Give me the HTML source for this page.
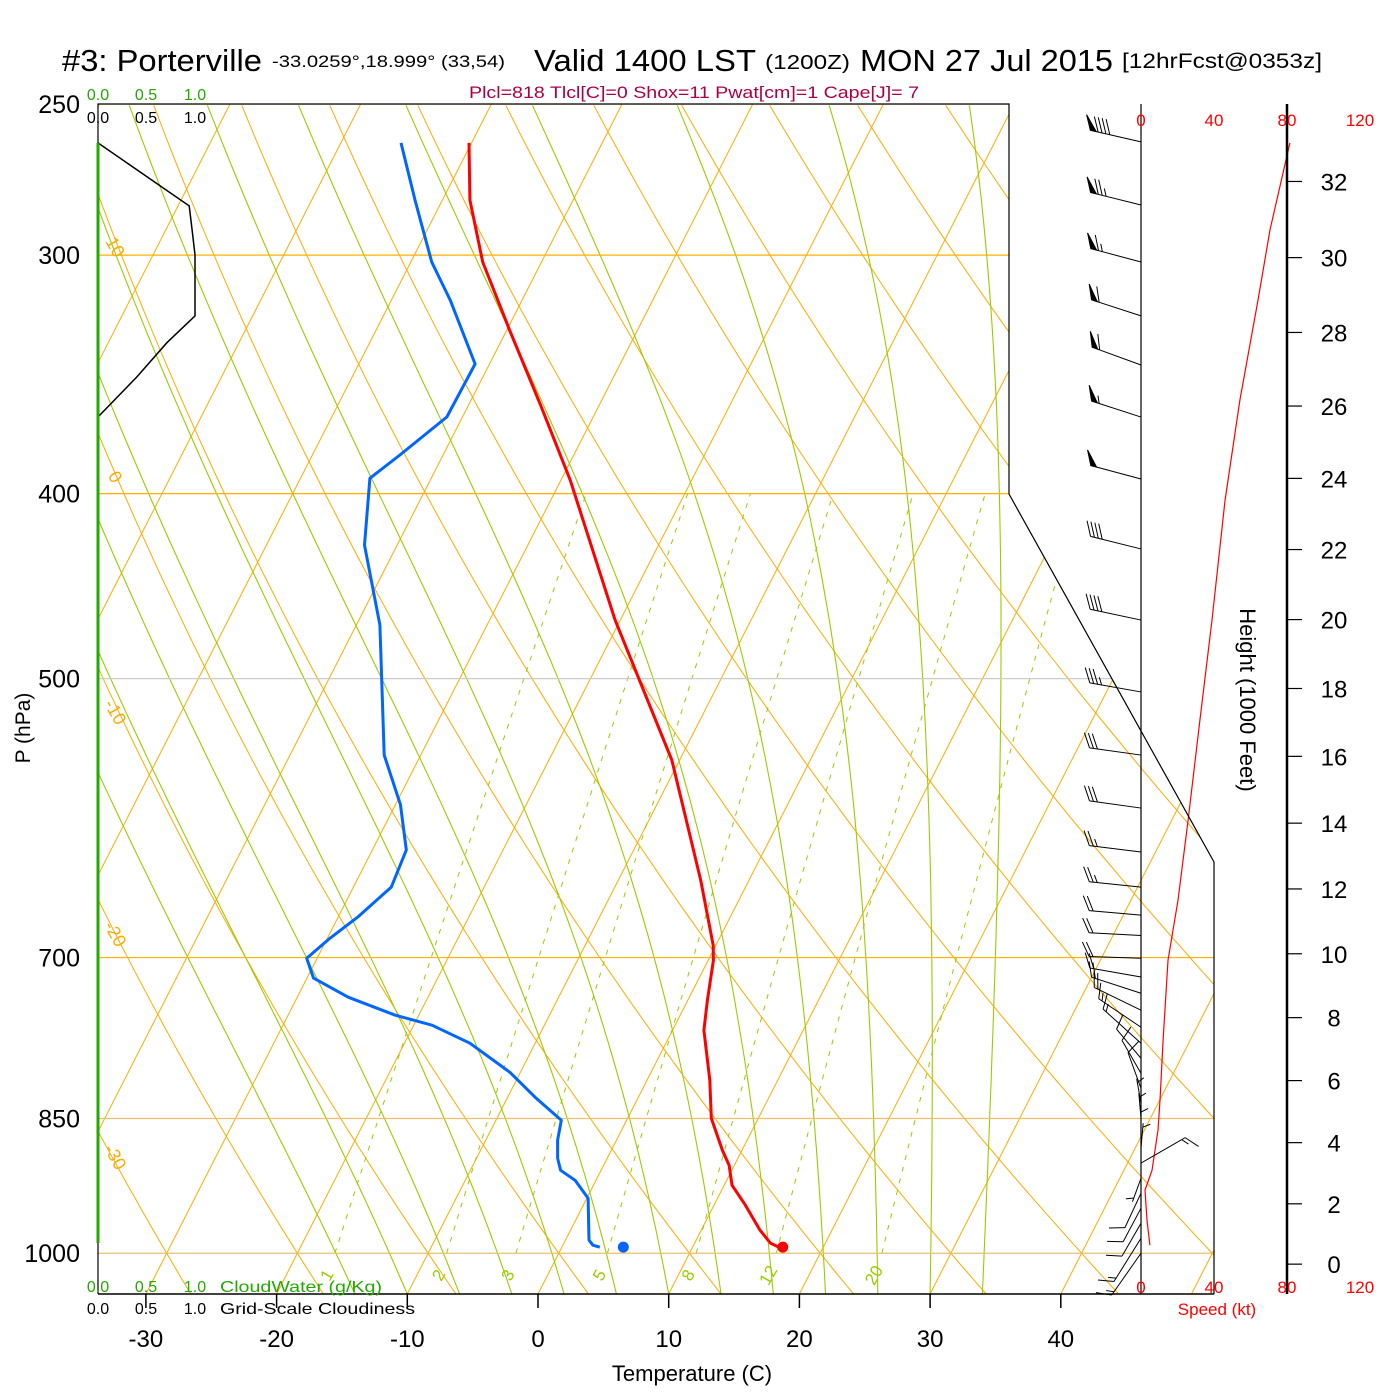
<!DOCTYPE html>
<html><head><meta charset="utf-8"><title>Skew-T Porterville</title>
<style>
html,body{margin:0;padding:0;background:#fff;}
svg{display:block;font-family:"Liberation Sans",sans-serif;}
</style></head>
<body>
<svg id="chart" width="1400" height="1400" viewBox="0 0 1400 1400" xmlns="http://www.w3.org/2000/svg">
<defs>
<clipPath id="plotclip"><polygon points="98,104 1009,104 1009,494 1214,862 1214,1294 98,1294"/></clipPath>
<clipPath id="mixclip"><polygon points="98,494 1214,494 1214,1253 98,1253"/></clipPath>
</defs>
<rect x="0" y="0" width="1400" height="1400" fill="#fff"/>
<g id="grid" clip-path="url(#plotclip)"></g>
<g id="series"></g>
<g id="frame">
<polyline points="98,1294 98,104 1009,104 1009,494 1214,862 1214,1294" fill="none" stroke="#000" stroke-width="1.2"/>
<line x1="98" y1="1294" x2="1214" y2="1294" stroke="#000" stroke-width="1.5"/>
<line x1="98" y1="143" x2="98" y2="1243" stroke="#22aa00" stroke-width="3"/>
<line x1="1141" y1="104" x2="1141" y2="1294" stroke="#000" stroke-width="1.2"/>
<line x1="1287" y1="104" x2="1287" y2="1294" stroke="#000" stroke-width="2.5"/>
</g>
<g fill="#000">
<text x="62" y="71" font-size="31" textLength="200" lengthAdjust="spacingAndGlyphs">#3: Porterville</text>
<text x="272" y="67" font-size="17" textLength="233" lengthAdjust="spacingAndGlyphs">-33.0259°,18.999° (33,54)</text>
<text x="534" y="71" font-size="31" textLength="222" lengthAdjust="spacingAndGlyphs">Valid 1400 LST</text>
<text x="765" y="69" font-size="20" textLength="85" lengthAdjust="spacingAndGlyphs">(1200Z)</text>
<text x="860" y="71" font-size="31" textLength="253" lengthAdjust="spacingAndGlyphs">MON 27 Jul 2015</text>
<text x="1122" y="68" font-size="21" textLength="200" lengthAdjust="spacingAndGlyphs">[12hrFcst@0353z]</text>
<text x="469" y="98" font-size="17" fill="#aa0044" textLength="450" lengthAdjust="spacingAndGlyphs">Plcl=818 Tlcl[C]=0 Shox=11 Pwat[cm]=1 Cape[J]= 7</text>
</g>
<g font-size="16" text-anchor="middle">
<text x="98" y="100" fill="#22aa00">0.0</text>
<text x="146" y="100" fill="#22aa00">0.5</text>
<text x="195" y="100" fill="#22aa00">1.0</text>
<text x="98" y="123" fill="#000">0.0</text>
<text x="146" y="123" fill="#000">0.5</text>
<text x="195" y="123" fill="#000">1.0</text>
<text x="98" y="1292" fill="#22aa00">0.0</text>
<text x="146" y="1292" fill="#22aa00">0.5</text>
<text x="195" y="1292" fill="#22aa00">1.0</text>
<text x="220" y="1292" fill="#22aa00" text-anchor="start" textLength="162" lengthAdjust="spacingAndGlyphs">CloudWater (g/Kg)</text>
<text x="98" y="1314" fill="#000">0.0</text>
<text x="146" y="1314" fill="#000">0.5</text>
<text x="195" y="1314" fill="#000">1.0</text>
<text x="220" y="1314" fill="#000" text-anchor="start" textLength="195" lengthAdjust="spacingAndGlyphs">Grid-Scale Cloudiness</text>
</g>
<text transform="translate(30,728) rotate(-90)" font-size="21" text-anchor="middle">P (hPa)</text>
<text x="692" y="1381" font-size="22" text-anchor="middle">Temperature (C)</text>
<text transform="translate(1240,700) rotate(90)" font-size="22" text-anchor="middle">Height (1000 Feet)</text>
<text x="1217" y="1315" font-size="17" fill="#ff0000" text-anchor="middle">Speed (kt)</text>
<g id="axes"></g>
</svg>
<script>
// ---------- data ----------
const pressureLevels = [250, 300, 400, 500, 700, 850, 1000];
const tempTicks = [-30, -20, -10, 0, 10, 20, 30, 40];
const isotherms = [-120,-110,-100,-90,-80,-70,-60,-50,-40,-30,-20,-10,0,10,20,30,40,50,60];
const dryAdiabats = [-30,-20,-10,0,10,20,30,40,50,60,70,80,90,100,110,120,130,140,150,160,170,180];
const moistAdiabats = [-14,-10,-6,-2,2,6,10,14,18,22,26,30,34];
const mixingRatios = [1, 2, 3, 5, 8, 12, 20];
const tempP = [262.0,280.7,302.5,328.3,359.4,393.5,465.9,551.6,637.6,689.7,702.3,737.0,764.1,811.6,849.7,883.2,899.3,921.2,943.7,972.6,987.9,992.7];
const tempT = [-50.2,-47.9,-44.5,-39.8,-34.5,-29.3,-20.4,-10.6,-3.7,-0.2,0.4,1.5,2.4,4.8,6.4,8.5,9.6,10.6,12.4,14.5,15.8,16.6];
const dewP = [262.0,280.7,302.5,316.7,342.1,364.7,381.8,392.6,425.6,468.7,548.3,582.3,614.8,643.0,666.7,683.9,700.6,717.6,734.3,750.4,759.5,776.2,803.9,828.4,851.7,872.5,891.7,904.8,915.8,935.9,984.3,990.4,992.7];
const dewT = [-55.4,-52.1,-48.4,-45.5,-41.1,-41.2,-43.3,-44.7,-42.5,-38.2,-32.8,-29.6,-27.4,-27.1,-28.5,-29.8,-30.8,-29.5,-26.1,-21.8,-18.6,-15.0,-10.8,-7.9,-5.0,-4.5,-3.8,-3.1,-1.6,0.1,1.8,2.3,2.9];
const sfcP = 992.7, sfcT = 16.9, sfcTd = 4.7;
const cloudP = [262.0,282.7,291.0,299.9,322.8,333.4,347.5,364.7];
const cloudFrac = [0,0.94,0.97,1.0,1.0,0.71,0.40,0];
const speedP = [262.0,291.0,316.7,357.3,403.4,465.9,525.7,593.1,653.2,702.3,773.4,831.4,862.0,904.8,926.6,961.0,990.4];
const speedKt = [81.6,70.7,64.1,54.2,46.0,38.9,32.3,25.8,20.3,14.8,12.1,10.4,9.3,6.0,2.2,3.3,4.9];
const barbP = [261.7,282.4,302.5,322.8,342.5,364.7,393.0,427.6,465.9,508.1,548.3,584.5,616.3,643.0,665.1,681.6,700.6,716.6,730.8,745.9,761.4,776.2,790.5,804.9,819.6,834.5,849.7,865.0,880.9,897.0,913.5,930.1,947.1,964.5,982.1,1000];
const barbDir = [283,284,285,288,290,288,285,284,282,280,278,278,277,276,275,273,272,280,288,296,304,312,320,330,340,350,355,0,5,60,200,205,208,210,212,215];
const barbKt = [90,75,65,60,60,55,50,40,40,35,30,30,25,25,20,20,20,20,20,20,15,15,10,10,10,5,5,5,5,15,5,10,10,10,15,15];
const speedTicks = [0, 40, 80, 120];
const heightTicks = [0,2,4,6,8,10,12,14,16,18,20,22,24,26,28,30,32];

// ---------- scales ----------
const Y = p => 104 + 829 * Math.log(p / 250);
const X = (T, p) => 538 + 13.07 * T + 0.51 * (1294 - Y(p));
const SX = kt => 1141 + kt * 73 / 40;
const NS = 'http://www.w3.org/2000/svg';
function mk(parent, tag, attrs) {
  const el = document.createElementNS(NS, tag);
  for (const k in attrs) el.setAttribute(k, attrs[k]);
  parent.appendChild(el);
  return el;
}
const grid = document.getElementById('grid');
const series = document.getElementById('series');
const axes = document.getElementById('axes');
const PB = 250 * Math.exp((1294 - 104) / 829);

for (const T of isotherms) {
  const el = mk(grid, 'line', {x1: X(T, PB), y1: Y(PB), x2: X(T, 250), y2: Y(250), stroke: '#ffaa00', 'stroke-width': 1});
  
  
}
for (const th of dryAdiabats) {
  let pts = [];
  for (let p = PB; p >= 245; p -= 10) {
    const T = (th + 273.15) * Math.pow(p / 1000, 0.2857) - 273.15;
    pts.push(X(T, p).toFixed(1) + ',' + Y(p).toFixed(1));
  }
  const el = mk(grid, 'polyline', {points: pts.join(' '), fill: 'none', stroke: '#ffaa00', 'stroke-width': 1});
  
  
}
function es(Tc) { return 6.112 * Math.exp(17.67 * Tc / (Tc + 243.5)); }
for (const t0 of moistAdiabats) {
  let T = t0 + 273.15, pts = [];
  const Rd = 287.04, cp = 1005.7, L = 2.501e6, eps = 0.622;
  for (let p = PB; p >= 245; p -= 2) {
    if (Math.round(p) % 10 === 0 || p === PB) pts.push(X(T - 273.15, p).toFixed(1) + ',' + Y(p).toFixed(1));
    const e = es(T - 273.15), rs = eps * e / (p - e);
    const dTdp = (1 / p) * (Rd * T + L * rs) / (cp + L * L * rs * eps / (Rd * T * T));
    T -= 2 * dTdp;
  }
  const el = mk(grid, 'polyline', {points: pts.join(' '), fill: 'none', stroke: '#99cc00', 'stroke-width': 1.1});
  
  
}
const mixG = mk(grid, 'g', {'clip-path': 'url(#mixclip)'});
for (const w of mixingRatios) {
  let pts = [];
  for (let p = 1000; p >= 400; p -= 10) {
    const e = w * p / (622 + w), l = Math.log(e / 6.112);
    const Td = 243.5 * l / (17.67 - l);
    pts.push(X(Td, p).toFixed(1) + ',' + Y(p).toFixed(1));
  }
  const el = mk(mixG, 'polyline', {points: pts.join(' '), fill: 'none', stroke: '#99cc00', 'stroke-width': 1, 'stroke-dasharray': '5,7'});
  
  
  const e0 = w * 1000 / (622 + w), l0 = Math.log(e0 / 6.112);
  const Td0 = 243.5 * l0 / (17.67 - l0);
  const lx = X(Td0, 1000) - 3, ly = 1278;
  const t = mk(grid, 'text', {x: lx, y: ly, 'font-size': 17, fill: '#99cc00', 'text-anchor': 'middle', transform: 'rotate(-60 ' + lx + ' ' + ly + ')'});
  t.textContent = String(w);
  
  
}
for (const p of pressureLevels) {
  const col = (p === 500) ? '#cccccc' : (p === 850 || p === 1000) ? '#e8c070' : '#ffb000';
  const el = mk(grid, 'line', {x1: 98, y1: Y(p), x2: 1214, y2: Y(p), stroke: col, 'stroke-width': 1.2});
  
  
  const t = mk(axes, 'text', {x: 80, y: Y(p) + 9, 'font-size': 25, 'text-anchor': 'end'});
  t.textContent = String(p);
  
  
}
const isoLabels = [0, 10, 20, 30];
const isoLabelP = [333, 410, 478, 562];
isoLabels.forEach((T, i) => {
  const px = X(T, isoLabelP[i]) + 10, py = Y(isoLabelP[i]);
  const t = mk(grid, 'text', {x: px, y: py, 'font-size': 22, fill: '#ffaa00', 'text-anchor': 'middle', transform: 'rotate(-60 ' + px + ' ' + py + ')'});
  t.textContent = String(T);
  
  
});
const dryLabels = [10, 0, -10, -20, -30];
const dryLabelY = [250, 480, 715, 937, 1160];
dryLabels.forEach((v, i) => {
  const px = 110, py = dryLabelY[i];
  const t = mk(grid, 'text', {x: px, y: py, 'font-size': 18, fill: '#ffaa00', 'text-anchor': 'middle', transform: 'rotate(60 ' + px + ' ' + py + ')'});
  t.textContent = String(v);
  
  
});
for (const T of tempTicks) {
  const x = 538 + 13.07 * T;
  const tk = mk(axes, 'line', {x1: x, y1: 1294, x2: x, y2: 1308, stroke: '#000', 'stroke-width': 1.5});
  
  
  const t = mk(axes, 'text', {x: x, y: 1347, 'font-size': 24, 'text-anchor': 'middle'});
  t.textContent = String(T);
  
  
}
for (const s of speedTicks) {
  for (const yy of [126, 1293]) {
    const t = mk(axes, 'text', {x: SX(s), y: yy, 'font-size': 17, fill: '#ff0000', 'text-anchor': 'middle'});
    t.textContent = String(s);
    
    
  }
}
for (const h of heightTicks) {
  const p = 1013.25 * Math.pow(1 - 2.25577e-5 * h * 304.8, 5.25588);
  const y = Y(p);
  const tk = mk(axes, 'line', {x1: 1287, y1: y, x2: 1302, y2: y, stroke: '#000', 'stroke-width': 1.2});
  
  
  const t = mk(axes, 'text', {x: 1334, y: y + 9, 'font-size': 24, 'text-anchor': 'middle'});
  t.textContent = String(h);
  
  
}
{
  const pts = cloudP.map((p, i) => (98 + 97 * cloudFrac[i]).toFixed(1) + ',' + Y(p).toFixed(1)).join(' ');
  const el = mk(series, 'polyline', {points: pts, fill: 'none', stroke: '#000', 'stroke-width': 1.5});
  
  
}
{
  const pts = tempP.map((p, i) => X(tempT[i], p).toFixed(1) + ',' + Y(p).toFixed(1)).join(' ');
  const el = mk(series, 'polyline', {points: pts, fill: 'none', stroke: '#ff0000', 'stroke-width': 3, 'stroke-linejoin': 'round'});
  
  
  const pts2 = dewP.map((p, i) => X(dewT[i], p).toFixed(1) + ',' + Y(p).toFixed(1)).join(' ');
  const el2 = mk(series, 'polyline', {points: pts2, fill: 'none', stroke: '#0066ff', 'stroke-width': 3, 'stroke-linejoin': 'round'});
  
  
  const d1 = mk(series, 'circle', {cx: X(sfcT, sfcP), cy: Y(sfcP), r: 5.5, fill: '#ff0000'});
  
  
  const d2 = mk(series, 'circle', {cx: X(sfcTd, sfcP), cy: Y(sfcP), r: 5.5, fill: '#0066ff'});
  
  
}
{
  const pts = speedP.map((p, i) => SX(speedKt[i]).toFixed(1) + ',' + Y(p).toFixed(1)).join(' ');
  const el = mk(series, 'polyline', {points: pts, fill: 'none', stroke: '#ff0000', 'stroke-width': 1.2});
  
  
}
barbP.forEach((p, i) => {
  const bx = 1141, by = Y(p), d = barbDir[i] * Math.PI / 180, s = barbKt[i];
  const L = s >= 20 ? 52 : 12 + 2.6 * s;
  const ux = Math.sin(d), uy = -Math.cos(d);
  let fx = 0.9 * (-uy) + 0.45 * ux, fy = 0.9 * ux + 0.45 * uy;
  const fl = Math.hypot(fx, fy); fx /= fl; fy /= fl;
  const g = mk(series, 'g', {stroke: '#000', 'stroke-width': 1, fill: '#000'});
  
  
  const tx = bx + L * ux, ty = by + L * uy;
  mk(g, 'line', {x1: bx, y1: by, x2: tx, y2: ty});
  let rem = Math.round(s / 5) * 5, pos = 0;
  while (rem >= 50) {
    const ax = tx - ux * pos, ay = ty - uy * pos;
    const cx = tx - ux * (pos + 6), cy = ty - uy * (pos + 6);
    mk(g, 'polygon', {points: ax + ',' + ay + ' ' + (ax + 16 * fx) + ',' + (ay + 16 * fy) + ' ' + cx + ',' + cy});
    pos += 8; rem -= 50;
  }
  while (rem >= 10) {
    const ax = tx - ux * pos, ay = ty - uy * pos;
    mk(g, 'line', {x1: ax, y1: ay, x2: ax + 16 * fx, y2: ay + 16 * fy});
    pos += 4; rem -= 10;
  }
  if (rem >= 5) {
    if (pos === 0) pos = 4;
    const ax = tx - ux * pos, ay = ty - uy * pos;
    mk(g, 'line', {x1: ax, y1: ay, x2: ax + 8 * fx, y2: ay + 8 * fy});
  }
});
</script>
</body></html>
